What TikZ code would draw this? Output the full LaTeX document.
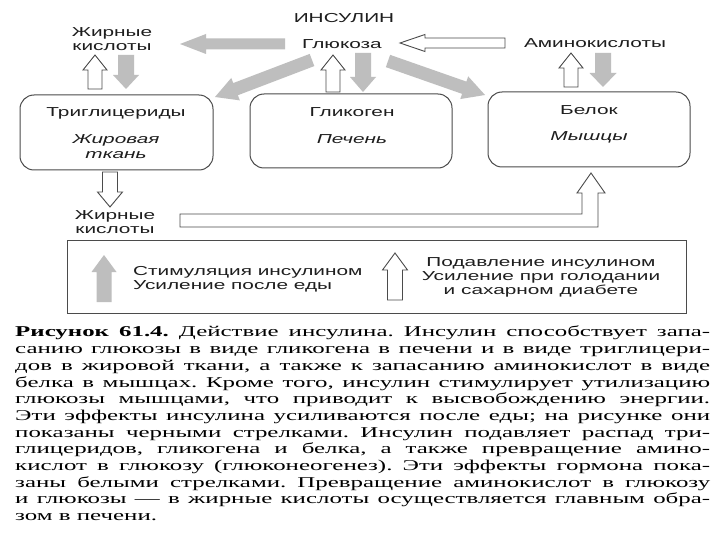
\documentclass[tikz,border=0pt]{standalone}
\usepackage{fontspec}
\setmainfont{Liberation Serif}[FakeStretch=1.66]
\newfontfamily\dsans{Liberation Sans}[FakeStretch=1.6]
\usetikzlibrary{calc}
\definecolor{arrgray}{RGB}{190,190,190}
\definecolor{linegray}{RGB}{75,75,75}
\definecolor{txt}{RGB}{30,30,30}
\tikzset{
  lbl/.style={font=\dsans\fontsize{13}{13.5}\selectfont, align=center, inner sep=0pt, text=txt},
  garrow/.style={fill=arrgray, draw=none},
  warrow/.style={fill=white, draw=linegray, line width=0.9pt, line join=miter},
  rbox/.style={draw=linegray, line width=1pt, rounded corners=14pt},
}
% #1 style, #2 from, #3 to, #4 shaft half width, #5 head half width, #6 head length
\newcommand{\blkarrow}[6]{%
  \coordinate (bh) at ($(#3)!#6!(#2)$);
  \path[#1] ($(#2)!#4!90:(#3)$) -- ($(bh)!#4!90:(#3)$) -- ($(bh)!#5!90:(#3)$) -- (#3)
     -- ($(bh)!#5!-90:(#3)$) -- ($(bh)!#4!-90:(#3)$) -- ($(#2)!#4!-90:(#3)$) -- cycle;
}
\frenchspacing
\begin{document}
\begin{tikzpicture}[x=1pt,y=-1pt]
\useasboundingbox[fill=white] (0,0) rectangle (720,540);

% texts top
\node[lbl] (ins) at (344,18) {ИНСУЛИН};
\node[lbl] (glu) at (342,44) {Глюкоза};
\node[lbl] (fa1) at (112,39) {Жирные\\кислоты};
\node[lbl] (amino) at (595,43) {Аминокислоты};

% boxes
\node[rbox, minimum width=193pt, minimum height=75pt] (tg) at (116.5,132.5) {};
\node[rbox, minimum width=202pt, minimum height=74pt] (gl) at (351,131) {};
\node[rbox, minimum width=202pt, minimum height=75pt] (pr) at (589,129.5) {};
\node[lbl] (tgt) at (116,113) {Триглицериды};
\node[lbl, font=\dsans\itshape\fontsize{13}{15}\selectfont] (tgs) at (116,147) {Жировая\\ткань};
\node[lbl] (glt) at (352,112) {Гликоген};
\node[lbl, font=\dsans\itshape\fontsize{13}{15}\selectfont] (gls) at (352,139) {Печень};
\node[lbl] (prt) at (589,110) {Белок};
\node[lbl, font=\dsans\itshape\fontsize{13}{15}\selectfont] (prs) at (589,137) {Мышцы};

\node[lbl] (fa2) at (115,222) {Жирные\\кислоты};

% arrow end points
\coordinate (a1t) at (285,44);  \coordinate (a1h) at (180,44);
\coordinate (a2t) at (505,43);  \coordinate (a2h) at (400,43);
\coordinate (a3t) at (95,89);   \coordinate (a3h) at (95,55);
\coordinate (a4t) at (126,55);  \coordinate (a4h) at (126,89);
\coordinate (a5t) at (312,60);  \coordinate (a5h) at (215,97);
\coordinate (a6t) at (333,92);  \coordinate (a6h) at (333,55);
\coordinate (a7t) at (363,53);  \coordinate (a7h) at (363,92);
\coordinate (a8t) at (388,61);  \coordinate (a8h) at (485,95);
\coordinate (a9t) at (571,87);  \coordinate (a9h) at (571,53);
\coordinate (a10t) at (603,53); \coordinate (a10h) at (603,87);
\coordinate (a11t) at (110,172); \coordinate (a11h) at (110,207);

\blkarrow{garrow}{a1t}{a1h}{5.5pt}{10pt}{26pt}
\blkarrow{warrow}{a2t}{a2h}{5pt}{8.5pt}{25pt}
\blkarrow{warrow}{a3t}{a3h}{7pt}{12pt}{15pt}
\blkarrow{garrow}{a4t}{a4h}{8pt}{13pt}{14pt}
\blkarrow{garrow}{a5t}{a5h}{6.5pt}{12pt}{22pt}
\blkarrow{warrow}{a6t}{a6h}{7pt}{12pt}{15pt}
\blkarrow{garrow}{a7t}{a7h}{8pt}{13pt}{15pt}
\blkarrow{garrow}{a8t}{a8h}{6.5pt}{12pt}{22pt}
\blkarrow{warrow}{a9t}{a9h}{7pt}{12pt}{15pt}
\blkarrow{garrow}{a10t}{a10h}{8pt}{13.5pt}{14pt}
\blkarrow{warrow}{a11t}{a11h}{7.5pt}{12.5pt}{15pt}

% long arrow from fatty acids to protein
\coordinate (ltail) at (180,220.5);
\coordinate (lhead) at (591,173);
\draw[warrow] ($(ltail)+(0,-6.5)$) -- ($(lhead)+(-9,41)$) -- ($(lhead)+(-9,20)$)
  -- ($(lhead)+(-14,20)$) -- (lhead) -- ($(lhead)+(14,20)$) -- ($(lhead)+(7,20)$)
  -- ($(lhead)+(7,54)$) -- ($(ltail)+(0,6.5)$) -- cycle;

% legend
\node[draw=linegray, line width=1pt, minimum width=619pt, minimum height=73pt] (leg) at (376.5,276.5) {};
\coordinate (l1t) at (104,302); \coordinate (l1h) at (104,255);
\coordinate (l2t) at (395,300); \coordinate (l2h) at (395,253);
\blkarrow{garrow}{l1t}{l1h}{7.5pt}{12.5pt}{17pt}
\blkarrow{warrow}{l2t}{l2h}{7.5pt}{12.5pt}{17pt}
\node[lbl, align=left, anchor=west, font=\dsans\fontsize{13}{14}\selectfont] (st) at (133,279) {Стимуляция инсулином\\Усиление после еды};
\node[lbl, font=\dsans\fontsize{13}{14}\selectfont] (sp) at (541,277) {Подавление инсулином\\Усиление при голодании\\и сахарном диабете};

% caption
\node[anchor=north west, inner sep=0pt, text=black] (cap) at (15,326) {\vbox{\fontsize{15}{16.7}\selectfont\frenchspacing\hsize=695pt\parindent=0pt
\makebox[695pt][s]{\textbf{Рисунок 61.4.} Действие инсулина. Инсулин способствует запа-}\par
\makebox[695pt][s]{санию глюкозы в виде гликогена в печени и в виде триглицери-}\par
\makebox[695pt][s]{дов в жировой ткани, а также к запасанию аминокислот в виде}\par
\makebox[695pt][s]{белка в мышцах. Кроме того, инсулин стимулирует утилизацию}\par
\makebox[695pt][s]{глюкозы мышцами, что приводит к высвобождению энергии.}\par
\makebox[695pt][s]{Эти эффекты инсулина усиливаются после еды; на рисунке они}\par
\makebox[695pt][s]{показаны черными стрелками. Инсулин подавляет распад три-}\par
\makebox[695pt][s]{глицеридов, гликогена и белка, а также превращение амино-}\par
\makebox[695pt][s]{кислот в глюкозу (глюконеогенез). Эти эффекты гормона пока-}\par
\makebox[695pt][s]{заны белыми стрелками. Превращение аминокислот в глюкозу}\par
\makebox[695pt][s]{и глюкозы --- в жирные кислоты осуществляется главным обра-}\par
\makebox[695pt][l]{зом в печени.}}};
\end{tikzpicture}
\end{document}
